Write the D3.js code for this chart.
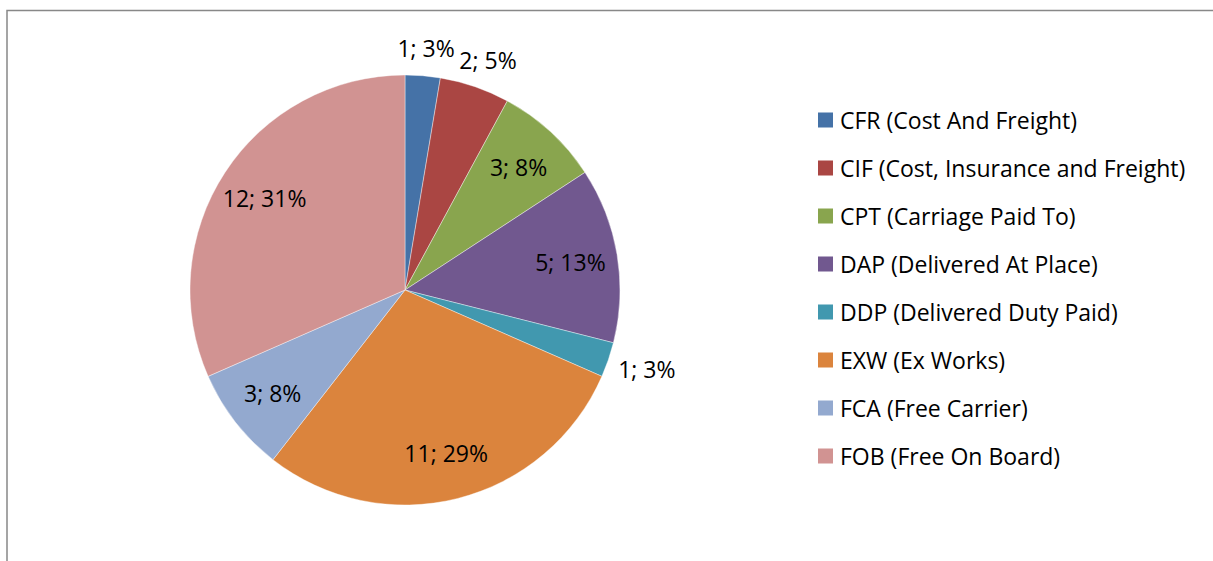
<!DOCTYPE html>
<html>
<head>
<meta charset="utf-8">
<script src="https://cdn.jsdelivr.net/npm/d3@7"></script>
<style>
  body { margin: 0; background: #fff; }
  text { font-family: "Open Sans", sans-serif; fill: #000; }
</style>
</head>
<body>
<svg id="chart" width="1213" height="561"></svg>
<script>
// incoterms, counts and the label text shown on the slices
let categories = ['CFR (Cost And Freight)', 'CIF (Cost, Insurance and Freight)', 'CPT (Carriage Paid To)',
    'DAP (Delivered At Place)', 'DDP (Delivered Duty Paid)', 'EXW (Ex Works)', 'FCA (Free Carrier)', 'FOB (Free On Board)'];
let counts = [1, 2, 3, 5, 1, 11, 3, 12];
let percentLabels = ['3%', '5%', '8%', '13%', '3%', '29%', '8%', '31%'];
let colors = ['#4572A7', '#AA4643', '#89A54E', '#71588F', '#4198AF', '#DB843D', '#93A9CF', '#D19392'];

let cx = 405, cy = 290, radius = 215;
let fontSize = '23px';

let svg = d3.select('#chart');

// frame (only top and left visible)
svg.append('rect')
    .attr('x', 7).attr('y', 10.5)
    .attr('width', 1230).attr('height', 600)
    .attr('fill', 'none')
    .attr('stroke', '#888')
    .attr('stroke-width', 1.5);

let color = d3.scaleOrdinal().domain(categories).range(colors);

let pie = d3.pie().sort(null).value(d => d.count);
let data = categories.map((c, i) => ({ name: c, count: counts[i], label: counts[i] + '; ' + percentLabels[i] }));
let arcs = pie(data);

let arc = d3.arc().innerRadius(0).outerRadius(radius);
let labelArc = d3.arc().innerRadius(radius * 0.78).outerRadius(radius * 0.78);

let g = svg.append('g').attr('transform', 'translate(' + cx + ',' + cy + ')');

g.selectAll('path')
    .data(arcs)
    .join('path')
    .attr('d', arc)
    .attr('fill', d => color(d.data.name))
    .attr('stroke', '#fff')
    .attr('stroke-width', 0.4);

//labels: small slices go outside the pie
let labels = g.selectAll('text')
    .data(arcs)
    .join('text')
    .attr('text-anchor', 'middle')
    .attr('dominant-baseline', 'central')
    .style('font-size', fontSize)
    .text(d => d.data.label);

labels.each(function(d) {
    let sel = d3.select(this);
    let mid = (d.startAngle + d.endAngle) / 2;
    if (d.endAngle - d.startAngle > 0.4) {
        let c = labelArc.centroid(d);
        sel.attr('x', c[0]).attr('y', c[1]);
    } else {
        let box = this.getBBox();
        let s = Math.sin(mid), co = -Math.cos(mid);
        let dist = radius + 12;
        sel.attr('x', s * dist + s * box.width / 2)
           .attr('y', co * dist + co * box.height / 2);
    }
});

// legend
let legendY = d3.scalePoint().domain(categories).range([120, 456]);

let legend = svg.append('g');
let items = legend.selectAll('g')
    .data(categories)
    .join('g')
    .attr('transform', d => 'translate(818,' + legendY(d) + ')');

items.append('rect')
    .attr('x', 0).attr('y', -7.5)
    .attr('width', 15).attr('height', 15)
    .attr('fill', d => color(d));

items.append('text')
    .attr('x', 22)
    .attr('dominant-baseline', 'central')
    .style('font-size', fontSize)
    .text(d => d);
</script>
</body>
</html>
